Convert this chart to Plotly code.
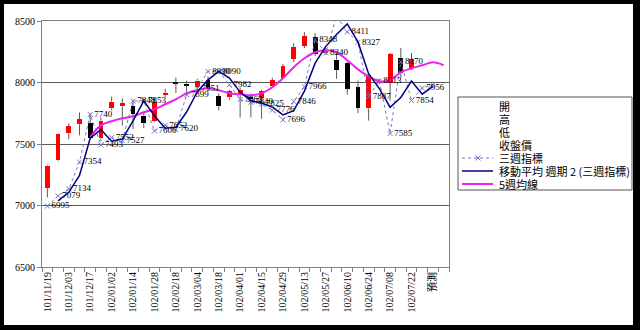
import plotly.graph_objects as go

# ---------------- data ----------------
weeks = ["101/11/19", "101/11/26", "101/12/03", "101/12/10", "101/12/17", "101/12/24",
         "102/01/02", "102/01/07", "102/01/14", "102/01/21", "102/01/28", "102/02/04",
         "102/02/18", "102/02/25", "102/03/04", "102/03/11", "102/03/18", "102/03/25",
         "102/04/01", "102/04/08", "102/04/15", "102/04/22", "102/04/29", "102/05/06",
         "102/05/13", "102/05/20", "102/05/27", "102/06/03", "102/06/10", "102/06/17",
         "102/06/24", "102/07/01", "102/07/08", "102/07/15", "102/07/22", "102/07/29",
         "預測", ""]

opens = [7140, 7367, 7587, 7660, 7668, 7545, 7790, 7805, 7810, 7725, 7690, 7900,
         8000, 7990, 7960, 8020, 7888, 7880, 7895, 7885, 7870, 7975, 8040, 8195,
         8300, 8370, 8240, 8185, 8160, 7960, 7790, 8000, 8000, 8200, 8115]
highs = [7330, 7585, 7668, 7757, 7750, 7715, 7885, 7870, 7860, 7765, 7855, 7950,
         8040, 8015, 8030, 8050, 7912, 7940, 7960, 7910, 7940, 8040, 8150, 8320,
         8410, 8400, 8280, 8245, 8170, 8015, 8075, 8030, 8240, 8280, 8240]
lows = [7065, 7360, 7538, 7571, 7540, 7525, 7775, 7650, 7620, 7630, 7680, 7880,
        7915, 7895, 7950, 7930, 7774, 7860, 7715, 7716, 7705, 7960, 8030, 8165,
        8280, 8215, 8225, 8030, 7900, 7750, 7690, 7990, 7850, 8040, 8100]
closes = [7325, 7579, 7644, 7701, 7546, 7690, 7845, 7830, 7748, 7670, 7845, 7915,
          7995, 7975, 8016, 7955, 7807, 7930, 7940, 7870, 7930, 8020, 8135, 8285,
          8375, 8230, 8260, 8100, 7950, 7795, 8065, 8013, 8230, 8075, 8195]

three_week = [6995, 7079, 7134, 7354, 7740, 7493, 7552, 7527, 7848, 7853, 7606, 7652,
              7620, 7899, 7951, 8090, 8090, 7982, 7862, 7840, 7825, 7776, 7696, 7846,
              7966, 8348, 8240, 8540, 8411, 8327, 7887, 8013, 7585, 8170, 7854, 7956, 7982]
three_week_labels = ["6995", "7079", "7134", "7354", "7740", "7493", "7552", "7527", "7848",
                     "7853", "7606", "7652", "7620", "7899", "7951", "8090", "8090", "7982",
                     "7862", "7840", "7825", "7776", "7696", "7846", "7966", "8348", "8240",
                     "", "8411", "8327", "7887", "8013", "7585", "8170", "7854", "7956", ""]

ma2 = [None, 7037, 7107, 7244, 7547, 7617, 7523, 7540, 7688, 7851, 7730, 7629, 7636,
       7760, 7925, 8021, 8090, 8036, 7922, 7851, 7833, 7801, 7736, 7771, 7930, 8157,
       8294, 8390, 8476, 8330, 8070, 7950, 7799, 7878, 8012, 7905, 7969]

ma5 = [None, None, None, None, 7556, 7652, 7685, 7709, 7725, 7758, 7782, 7823, 7863,
       7912, 7937, 7953, 7937, 7912, 7904, 7896, 7912, 7961, 8034, 8124, 8197, 8246,
       8262, 8246, 8181, 8107, 8050, 8010, 8018, 8083, 8115, 8140, 8164, 8140]

legend_names = ["開", "高", "低", "收盤價", "三週指標", "移動平均 週期 2 (三週指標)", "5週均線"]

# ---------------- layout constants ----------------
W, H = 640, 330
L, R, T, B = 42, 191, 21, 63
PW, PH = W - L - R, H - T - B


def px(x):
    return (x - L) / PW


def py(y):
    return (H - B - y) / PH


RED = "#FF0000"
WICK = "#5c5c5c"
DOT = "#7474C8"
NAVY = "#000080"
MAG = "#EE22EE"
SERIF = "Liberation Serif, Noto Sans CJK TC"
CJK = "Noto Sans CJK TC, Noto Sans CJK SC"

n = len(closes)
xs = list(range(n))
xall = list(range(len(weeks)))

# wick segments (above and below the bodies)
wx, wy = [], []
for i in range(n):
    top = max(opens[i], closes[i])
    bot = min(opens[i], closes[i])
    wx += [i, i, None, i, i, None]
    wy += [top, highs[i], None, lows[i], bot, None]

fig = go.Figure()

fig.add_trace(go.Bar(
    x=xs,
    base=[min(o, c) for o, c in zip(opens, closes)],
    y=[abs(c - o) for o, c in zip(opens, closes)],
    width=0.45,
    marker=dict(color=[RED if c >= o else "#000000" for o, c in zip(opens, closes)],
                line=dict(width=0)),
    hoverinfo="skip",
))

fig.add_trace(go.Scatter(x=wx, y=wy, mode="lines",
                         line=dict(color=WICK, width=1), hoverinfo="skip"))

fig.add_trace(go.Scatter(
    x=xall[:len(ma5)], y=ma5, mode="lines",
    line=dict(color=MAG, width=2, shape="spline", smoothing=1.0),
))

fig.add_trace(go.Scatter(
    x=xall[:len(three_week)], y=three_week, mode="lines+markers+text",
    line=dict(color=DOT, width=1, dash="dot"),
    marker=dict(symbol="x-thin", size=5, line=dict(color=DOT, width=1)),
    text=three_week_labels, textposition="middle right",
    textfont=dict(family=SERIF, size=9, color="#000000"),
))

fig.add_trace(go.Scatter(
    x=xall[:len(ma2)], y=ma2, mode="lines",
    line=dict(color=NAVY, width=1.5),
))

tickvals = xall[0::2]
ticktext = weeks[0::2]

fig.update_layout(
    width=W, height=H,
    margin=dict(l=L, r=R, t=T, b=B, pad=0),
    paper_bgcolor="#000000",
    plot_bgcolor="#FFFFFF",
    showlegend=False,
    bargap=0,
    xaxis=dict(
        range=[-0.5, len(weeks) - 0.5],
        tickmode="array", tickvals=tickvals, ticktext=ticktext,
        tickangle=-90, ticks="", showgrid=False, zeroline=False,
        showline=True, linecolor="#808080", linewidth=1, mirror=True,
        tickfont=dict(family=SERIF, size=10, color="#000000"),
        minor=dict(tickvals=[k - 0.5 for k in range(len(weeks) + 1)],
                   ticks="outside", ticklen=4, tickcolor="#808080", showgrid=False),
    ),
    yaxis=dict(
        range=[6500, 8500], tickmode="linear", tick0=6500, dtick=500,
        ticks="outside", ticklen=4, tickcolor="#808080",
        showgrid=True, gridcolor="#5a5a5a", gridwidth=1, zeroline=False,
        showline=True, linecolor="#808080", linewidth=1, mirror=True,
        tickfont=dict(family=SERIF, size=10, color="#000000"),
    ),
)

shapes = []
# white page inside the black frame
shapes.append(dict(type="rect", xref="paper", yref="paper",
                   x0=px(4), x1=px(633), y0=py(325), y1=py(4),
                   fillcolor="#FFFFFF", line=dict(width=0), layer="below"))
# legend box
shapes.append(dict(type="rect", xref="paper", yref="paper",
                   x0=px(458), x1=px(632), y0=py(190), y1=py(97),
                   fillcolor="rgba(0,0,0,0)", line=dict(color="#555555", width=1)))

leg_y = [106, 119, 132, 145, 158, 171, 184]
annotations = []
for name, yc in zip(legend_names, leg_y):
    annotations.append(dict(xref="paper", yref="paper", x=px(497), y=py(yc),
                             xanchor="left", yanchor="middle", showarrow=False,
                             text=name, font=dict(family=CJK, size=11, color="#000000")))

# legend symbols
shapes.append(dict(type="line", xref="paper", yref="paper",
                   x0=px(462), x1=px(493), y0=py(158), y1=py(158),
                   line=dict(color=DOT, width=1, dash="dot")))
shapes.append(dict(type="line", xref="paper", yref="paper",
                   x0=px(475.5), x1=px(480.5), y0=py(155.5), y1=py(160.5),
                   line=dict(color=DOT, width=1)))
shapes.append(dict(type="line", xref="paper", yref="paper",
                   x0=px(475.5), x1=px(480.5), y0=py(160.5), y1=py(155.5),
                   line=dict(color=DOT, width=1)))
shapes.append(dict(type="line", xref="paper", yref="paper",
                   x0=px(462), x1=px(493), y0=py(171), y1=py(171),
                   line=dict(color=NAVY, width=1.5)))
shapes.append(dict(type="line", xref="paper", yref="paper",
                   x0=px(462), x1=px(493), y0=py(184), y1=py(184),
                   line=dict(color=MAG, width=2)))

fig.update_layout(shapes=shapes, annotations=annotations)

fig.write_html("out.html")
